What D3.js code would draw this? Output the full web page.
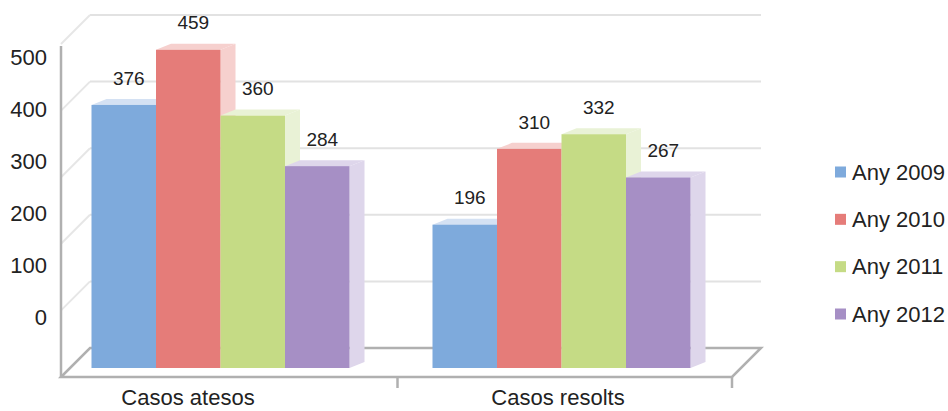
<!DOCTYPE html>
<html><head><meta charset="utf-8">
<script src="https://cdn.jsdelivr.net/npm/d3@7"></script>
<style>html,body{margin:0;padding:0;background:#fff;}svg{display:block;font-family:"Liberation Sans",Arial,sans-serif;}</style>
</head><body><svg id="c" width="948" height="411"></svg>
<script>
const categories = ["Casos atesos", "Casos resolts"];
const series = ["Any 2009", "Any 2010", "Any 2011", "Any 2012"];
const values2009 = [376, 196];
const values2010 = [459, 310];
const values2011 = [360, 332];
const values2012 = [284, 267];
const yTicks = [0, 100, 200, 300, 400, 500];

const seriesValues = [values2009, values2010, values2011, values2012];
const frontColors = ["#7eaadc", "#e57c79", "#c5db85", "#a68fc5"];
const lightColors = ["#d4e1f3", "#f6d0ce", "#e9f2d6", "#ded6eb"];

const svg = d3.select("#c");
const DX = 15, DY = -6;          // bar depth offset
const WX = 29, WY = -29;         // wall depth offset
const frontLeft = 61, frontRight = 732, frontFloor = 377;
const barBottom = 368;

const yGrid = d3.scaleLinear().domain([0, 500]).range([frontFloor + WY, 15]);
const yBar = d3.scaleLinear().domain([0, 500]).range([355, 22.5]);
const yLab = d3.scaleLinear().domain([0, 500]).range([317, 57]);
const x0 = d3.scaleBand().domain(categories).range([50, 732]);
const x1 = d3.scaleBand().domain(series).range([41.5, 299.5]);
const xFloor = d3.scaleBand().domain(categories).range([frontLeft, frontRight + 2]);
const xCatLabel = d3.scalePoint().domain(categories).range([188, 558]);

// back wall gridlines + left wall diagonals
const grid = svg.append("g");
yTicks.slice(1).forEach(t => {
  const y = yGrid(t);
  grid.append("line").attr("x1", frontLeft + WX).attr("x2", frontRight + WX)
    .attr("y1", y).attr("y2", y).attr("stroke", "#e2e2e2").attr("stroke-width", 2);
  grid.append("line").attr("x1", frontLeft + WX).attr("y1", y)
    .attr("x2", frontLeft).attr("y2", y - WY).attr("stroke", "#e6e6e6").attr("stroke-width", 2);
});

// floor
const floorColor = "#b0b0b0";
const fl = svg.append("g").attr("stroke", floorColor).attr("stroke-width", 2.5).attr("fill", "none");
fl.append("path").attr("d", `M${frontLeft},${frontFloor}L${frontLeft + WX},${frontFloor + WY}L${frontRight + WX},${frontFloor + WY}L${frontRight},${frontFloor}Z`);
fl.append("line").attr("x1", frontLeft).attr("x2", frontLeft).attr("y1", yGrid(500) - WY + 2).attr("y2", frontFloor);
// category ticks
categories.forEach(c => {
  const x = Math.min(xFloor(c) + xFloor.bandwidth(), frontRight);
  fl.append("line").attr("x1", x).attr("x2", x).attr("y1", frontFloor).attr("y2", frontFloor + 11);
});

// bars
const bars = svg.append("g");
categories.forEach((c, ci) => {
  series.forEach((s, si) => {
    const v = seriesValues[si][ci];
    const xa = x0(c) + x1(s), xb = xa + x1.bandwidth();
    const yt = yBar(v), yb = barBottom;
    bars.append("path").attr("fill", lightColors[si])
      .attr("d", `M${xb},${yt}L${xb + DX},${yt + DY}L${xb + DX},${yb + DY}L${xb},${yb}Z`);
    bars.append("path").attr("fill", lightColors[si])
      .attr("d", `M${xa},${yt}L${xa + DX},${yt + DY}L${xb + DX},${yt + DY}L${xb},${yt}Z`);
    bars.append("rect").attr("x", xa).attr("y", yt).attr("width", xb - xa).attr("height", yb - yt)
      .attr("fill", frontColors[si]);
  });
});

// value labels
const vl = svg.append("g").attr("font-size", 19).attr("fill", "#222").attr("text-anchor", "middle");
categories.forEach((c, ci) => {
  series.forEach((s, si) => {
    const v = seriesValues[si][ci];
    const xc = x0(c) + x1(s) + x1.bandwidth() / 2 + 5;
    vl.append("text").attr("x", xc).attr("y", yBar(v) - 27).attr("dy", "0.35em").text(v);
  });
});

// y tick labels
svg.append("g").attr("font-size", 22).attr("fill", "#222").attr("text-anchor", "end")
  .selectAll("text").data(yTicks).join("text")
  .attr("x", 47).attr("y", d => yLab(d)).attr("dy", "0.35em").text(d => d);

// category labels
svg.append("g").attr("font-size", 22).attr("fill", "#222").attr("text-anchor", "middle")
  .selectAll("text").data(categories).join("text")
  .attr("x", d => xCatLabel(d)).attr("y", 405).text(d => d);

// legend
const ly = d3.scalePoint().domain(series).range([172, 314]);
const lg = svg.append("g");
series.forEach((s, si) => {
  lg.append("rect").attr("x", 835).attr("y", ly(s) - 5.5).attr("width", 11).attr("height", 11).attr("fill", frontColors[si]);
  lg.append("text").attr("x", 852).attr("y", ly(s)).attr("dy", "0.35em").attr("font-size", 22).attr("fill", "#222").text(s);
});
</script></body></html>
